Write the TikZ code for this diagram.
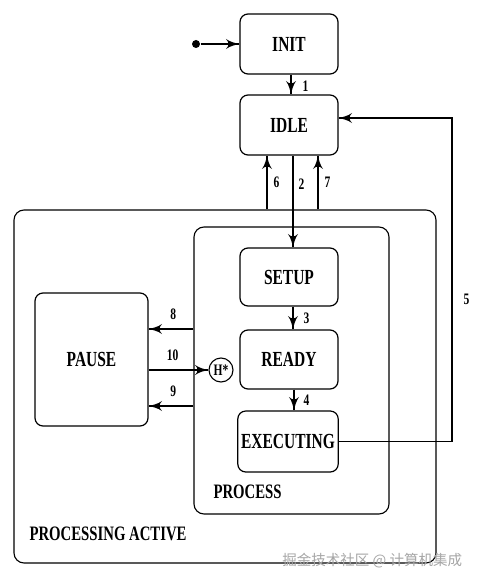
\documentclass[tikz,border=0pt]{standalone}
\usepackage{fontspec}
\setmainfont{Liberation Serif}[FakeStretch=0.72]
\newfontfamily\cjkfont{Noto Sans CJK SC}
\usetikzlibrary{arrows}
\usetikzlibrary{decorations.markings}
\tikzset{->/.style = {decoration={markings,
                                  mark=at position 1 with {\arrow[scale=2.2]{latex'}}},
                      postaction={decorate}}}
\tikzset{circ/.style = {fill, circle, inner sep = 0, minimum size = 8}}
\tikzset{state/.style = {draw, rounded corners = 8, minimum width = 98, minimum height = 60,
                         line width = 1.2, font = \bfseries\fontsize{21.5}{23}\selectfont}}
\tikzset{region/.style = {draw, rounded corners = 10, inner sep = 0}}
\tikzset{title/.style = {anchor = west, inner sep = 0, font = \bfseries\fontsize{20.5}{22}\selectfont}}
\tikzset{lbl/.style = {inner sep = 0, font = \bfseries\fontsize{16}{17}\selectfont}}

\begin{document}
\begin{tikzpicture}[x = 1pt, y = -1pt, line width = 1.1]
      \useasboundingbox (0, 0) rectangle (481, 585);
      \node (active) [region, minimum width = 422, minimum height = 353] at (225, 386.5) {};
      \node (process) [region, minimum width = 195, minimum height = 287] at (291.5, 370.5) {};
      \node (init) [state] at (289, 44) {INIT};
      \node (idle) [state] at (289, 125) {IDLE};
      \node (setup) [state, minimum height = 58] at (289, 277) {SETUP};
      \node (ready) [state, minimum height = 59] at (289, 359.5) {READY};
      \node (executing) [state, minimum height = 61] at (288, 441.5) {EXECUTING};
      \node (pause) [state, minimum width = 113, minimum height = 133] at (91.5, 359.5) {PAUSE};
      \node (hist) [draw, circle, minimum size = 24, inner sep = 0, lbl] at (221, 370) {H*};
      \node (start) [circ] at (196, 44) {};
      \node (plabel) [title] at (213, 492) {PROCESS};
      \node (alabel) [title] at (29, 534) {PROCESSING ACTIVE};
      \node (mark) [anchor = east, text = gray!70, font = \cjkfont\fontsize{14.5}{15}\selectfont]
            at (466, 561) {掘金技术社区 @ 计算机集成};
      \draw [->] (start) -- (init);
      \draw [->] (init.south -| 291, 0) -- (idle.north -| 291, 0)
            node (t1) [lbl, pos = 0.6, right = 11] {1};
      \draw [->] (idle.south -| 293, 0) -- (setup.north -| 293, 0)
            node (t2) [lbl, pos = 0.31, right = 5] {2};
      \draw [->] (active.north -| 267, 0) -- (idle.south -| 267, 0)
            node (t6) [lbl, pos = 0.5, right = 6] {6};
      \draw [->] (active.north -| 318, 0) -- (idle.south -| 318, 0)
            node (t7) [lbl, pos = 0.5, right = 6] {7};
      \draw [->] (setup.south -| 293, 0) -- (ready.north -| 293, 0)
            node (t3) [lbl, pos = 0.5, right = 10] {3};
      \draw [->] (ready.south -| 294, 0) -- (executing.north -| 294, 0)
            node (t4) [lbl, pos = 0.5, right = 9] {4};
      \coordinate (bend) at (452, 118);
      \draw [->] (executing.east) -| (bend) node (t5) [lbl, pos = 0.72, right = 11] {5}
            -- (idle.east |- bend);
      \draw [->] (process.west |- 0, 329) -- (pause.east |- 0, 329)
            node (t8) [lbl, pos = 0.45, above = 9] {8};
      \draw [->] (pause.east |- 0, 370) -- (hist)
            node (t10) [lbl, pos = 0.4, above = 9] {10};
      \draw [->] (process.west |- 0, 406) -- (pause.east |- 0, 406)
            node (t9) [lbl, pos = 0.45, above = 9] {9};
    \end{tikzpicture}
\end{document}
